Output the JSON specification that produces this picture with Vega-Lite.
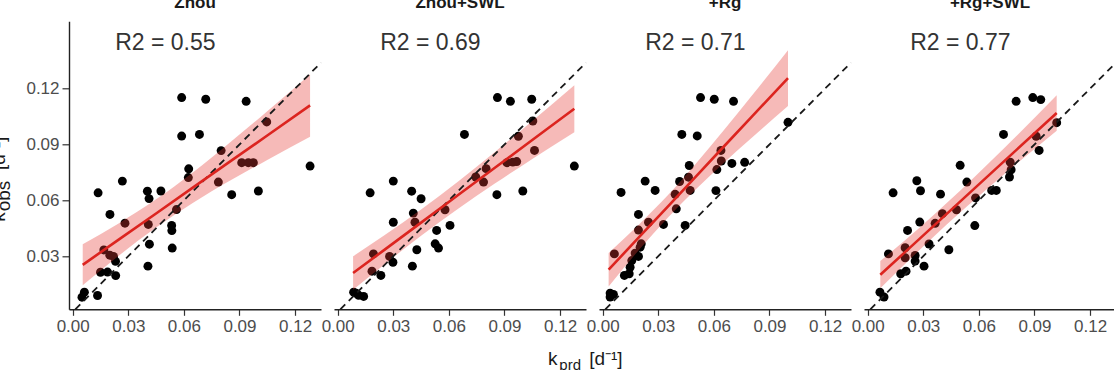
{
  "$schema": "https://vega.github.io/schema/vega-lite/v6.json",
  "padding": {"left": -11, "top": -6.7, "right": 0, "bottom": 0},
  "title": {
    "text": "k\u00a0\u00a0\u00a0\u00a0\u00a0\u00a0[d\u207b\u00b9]",
    "subtitle": "\u2060\u00a0\u00a0\u2009prd",
    "orient": "bottom",
    "anchor": "start",
    "frame": "group",
    "align": "left",
    "dx": 479,
    "offset": 16,
    "fontSize": 19,
    "fontWeight": "normal",
    "color": "#1a1a1a",
    "font": "Liberation Sans",
    "subtitleFont": "Liberation Sans",
    "subtitleFontSize": 15,
    "subtitleColor": "#1a1a1a",
    "subtitlePadding": -11
  },
  "data": {
    "values": [
      {"model": "Zhou", "kind": "pt", "prd": 0.0588, "obs": 0.1152},
      {"model": "Zhou", "kind": "pt", "prd": 0.0718, "obs": 0.1143},
      {"model": "Zhou", "kind": "pt", "prd": 0.0936, "obs": 0.1132},
      {"model": "Zhou", "kind": "pt", "prd": 0.0588, "obs": 0.0945},
      {"model": "Zhou", "kind": "pt", "prd": 0.0684, "obs": 0.0954},
      {"model": "Zhou", "kind": "pt", "prd": 0.1047, "obs": 0.1021},
      {"model": "Zhou", "kind": "pt", "prd": 0.0801, "obs": 0.0867},
      {"model": "Zhou", "kind": "pt", "prd": 0.0912, "obs": 0.0802},
      {"model": "Zhou", "kind": "pt", "prd": 0.0948, "obs": 0.0802},
      {"model": "Zhou", "kind": "pt", "prd": 0.0975, "obs": 0.0802},
      {"model": "Zhou", "kind": "pt", "prd": 0.1281, "obs": 0.0784},
      {"model": "Zhou", "kind": "pt", "prd": 0.0626, "obs": 0.0769},
      {"model": "Zhou", "kind": "pt", "prd": 0.0624, "obs": 0.0722},
      {"model": "Zhou", "kind": "pt", "prd": 0.0786, "obs": 0.0698},
      {"model": "Zhou", "kind": "pt", "prd": 0.0858, "obs": 0.0630},
      {"model": "Zhou", "kind": "pt", "prd": 0.1002, "obs": 0.0650},
      {"model": "Zhou", "kind": "pt", "prd": 0.0268, "obs": 0.0703},
      {"model": "Zhou", "kind": "pt", "prd": 0.0137, "obs": 0.0640},
      {"model": "Zhou", "kind": "pt", "prd": 0.0403, "obs": 0.0649},
      {"model": "Zhou", "kind": "pt", "prd": 0.0412, "obs": 0.0609},
      {"model": "Zhou", "kind": "pt", "prd": 0.0476, "obs": 0.0650},
      {"model": "Zhou", "kind": "pt", "prd": 0.0201, "obs": 0.0524},
      {"model": "Zhou", "kind": "pt", "prd": 0.0560, "obs": 0.0550},
      {"model": "Zhou", "kind": "pt", "prd": 0.0282, "obs": 0.0477},
      {"model": "Zhou", "kind": "pt", "prd": 0.0408, "obs": 0.0470},
      {"model": "Zhou", "kind": "pt", "prd": 0.0534, "obs": 0.0465},
      {"model": "Zhou", "kind": "pt", "prd": 0.0535, "obs": 0.0437},
      {"model": "Zhou", "kind": "pt", "prd": 0.0414, "obs": 0.0364},
      {"model": "Zhou", "kind": "pt", "prd": 0.0537, "obs": 0.0343},
      {"model": "Zhou", "kind": "pt", "prd": 0.0406, "obs": 0.0246},
      {"model": "Zhou", "kind": "pt", "prd": 0.0168, "obs": 0.0333},
      {"model": "Zhou", "kind": "pt", "prd": 0.0200, "obs": 0.0305},
      {"model": "Zhou", "kind": "pt", "prd": 0.0220, "obs": 0.0298},
      {"model": "Zhou", "kind": "pt", "prd": 0.0231, "obs": 0.0272},
      {"model": "Zhou", "kind": "pt", "prd": 0.0150, "obs": 0.0213},
      {"model": "Zhou", "kind": "pt", "prd": 0.0188, "obs": 0.0214},
      {"model": "Zhou", "kind": "pt", "prd": 0.0232, "obs": 0.0195},
      {"model": "Zhou", "kind": "pt", "prd": 0.0134, "obs": 0.0088},
      {"model": "Zhou", "kind": "pt", "prd": 0.0063, "obs": 0.0106},
      {"model": "Zhou", "kind": "pt", "prd": 0.0050, "obs": 0.0079},

      {"model": "Zhou+SWL", "kind": "pt", "prd": 0.0862, "obs": 0.1152},
      {"model": "Zhou+SWL", "kind": "pt", "prd": 0.0932, "obs": 0.1132},
      {"model": "Zhou+SWL", "kind": "pt", "prd": 0.1047, "obs": 0.1143},
      {"model": "Zhou+SWL", "kind": "pt", "prd": 0.1053, "obs": 0.1026},
      {"model": "Zhou+SWL", "kind": "pt", "prd": 0.0975, "obs": 0.0944},
      {"model": "Zhou+SWL", "kind": "pt", "prd": 0.0684, "obs": 0.0954},
      {"model": "Zhou+SWL", "kind": "pt", "prd": 0.1062, "obs": 0.0868},
      {"model": "Zhou+SWL", "kind": "pt", "prd": 0.0913, "obs": 0.0802},
      {"model": "Zhou+SWL", "kind": "pt", "prd": 0.0945, "obs": 0.0805},
      {"model": "Zhou+SWL", "kind": "pt", "prd": 0.0966, "obs": 0.0808},
      {"model": "Zhou+SWL", "kind": "pt", "prd": 0.1277, "obs": 0.0784},
      {"model": "Zhou+SWL", "kind": "pt", "prd": 0.0801, "obs": 0.0770},
      {"model": "Zhou+SWL", "kind": "pt", "prd": 0.0787, "obs": 0.0698},
      {"model": "Zhou+SWL", "kind": "pt", "prd": 0.0745, "obs": 0.0725},
      {"model": "Zhou+SWL", "kind": "pt", "prd": 0.0859, "obs": 0.0630},
      {"model": "Zhou+SWL", "kind": "pt", "prd": 0.0999, "obs": 0.0650},
      {"model": "Zhou+SWL", "kind": "pt", "prd": 0.0300, "obs": 0.0703},
      {"model": "Zhou+SWL", "kind": "pt", "prd": 0.0175, "obs": 0.0640},
      {"model": "Zhou+SWL", "kind": "pt", "prd": 0.0399, "obs": 0.0649},
      {"model": "Zhou+SWL", "kind": "pt", "prd": 0.0450, "obs": 0.0608},
      {"model": "Zhou+SWL", "kind": "pt", "prd": 0.0408, "obs": 0.0531},
      {"model": "Zhou+SWL", "kind": "pt", "prd": 0.0417, "obs": 0.0482},
      {"model": "Zhou+SWL", "kind": "pt", "prd": 0.0300, "obs": 0.0482},
      {"model": "Zhou+SWL", "kind": "pt", "prd": 0.0579, "obs": 0.0549},
      {"model": "Zhou+SWL", "kind": "pt", "prd": 0.0534, "obs": 0.0438},
      {"model": "Zhou+SWL", "kind": "pt", "prd": 0.0606, "obs": 0.0465},
      {"model": "Zhou+SWL", "kind": "pt", "prd": 0.0526, "obs": 0.0366},
      {"model": "Zhou+SWL", "kind": "pt", "prd": 0.0544, "obs": 0.0343},
      {"model": "Zhou+SWL", "kind": "pt", "prd": 0.0427, "obs": 0.0334},
      {"model": "Zhou+SWL", "kind": "pt", "prd": 0.0403, "obs": 0.0246},
      {"model": "Zhou+SWL", "kind": "pt", "prd": 0.0193, "obs": 0.0312},
      {"model": "Zhou+SWL", "kind": "pt", "prd": 0.0280, "obs": 0.0298},
      {"model": "Zhou+SWL", "kind": "pt", "prd": 0.0298, "obs": 0.0267},
      {"model": "Zhou+SWL", "kind": "pt", "prd": 0.0185, "obs": 0.0219},
      {"model": "Zhou+SWL", "kind": "pt", "prd": 0.0233, "obs": 0.0196},
      {"model": "Zhou+SWL", "kind": "pt", "prd": 0.0086, "obs": 0.0106},
      {"model": "Zhou+SWL", "kind": "pt", "prd": 0.0113, "obs": 0.0089},
      {"model": "Zhou+SWL", "kind": "pt", "prd": 0.0140, "obs": 0.0083},
      {"model": "Zhou+SWL", "kind": "pt", "prd": 0.0100, "obs": 0.0100},

      {"model": "+Rg", "kind": "pt", "prd": 0.0528, "obs": 0.1152},
      {"model": "+Rg", "kind": "pt", "prd": 0.0602, "obs": 0.1143},
      {"model": "+Rg", "kind": "pt", "prd": 0.0706, "obs": 0.1132},
      {"model": "+Rg", "kind": "pt", "prd": 0.1000, "obs": 0.1019},
      {"model": "+Rg", "kind": "pt", "prd": 0.0427, "obs": 0.0954},
      {"model": "+Rg", "kind": "pt", "prd": 0.0510, "obs": 0.0946},
      {"model": "+Rg", "kind": "pt", "prd": 0.0638, "obs": 0.0868},
      {"model": "+Rg", "kind": "pt", "prd": 0.0640, "obs": 0.0811},
      {"model": "+Rg", "kind": "pt", "prd": 0.0697, "obs": 0.0798},
      {"model": "+Rg", "kind": "pt", "prd": 0.0766, "obs": 0.0804},
      {"model": "+Rg", "kind": "pt", "prd": 0.0616, "obs": 0.0765},
      {"model": "+Rg", "kind": "pt", "prd": 0.0467, "obs": 0.0787},
      {"model": "+Rg", "kind": "pt", "prd": 0.0463, "obs": 0.0724},
      {"model": "+Rg", "kind": "pt", "prd": 0.0415, "obs": 0.0701},
      {"model": "+Rg", "kind": "pt", "prd": 0.0472, "obs": 0.0653},
      {"model": "+Rg", "kind": "pt", "prd": 0.0611, "obs": 0.0652},
      {"model": "+Rg", "kind": "pt", "prd": 0.0229, "obs": 0.0703},
      {"model": "+Rg", "kind": "pt", "prd": 0.0283, "obs": 0.0653},
      {"model": "+Rg", "kind": "pt", "prd": 0.0099, "obs": 0.0642},
      {"model": "+Rg", "kind": "pt", "prd": 0.0391, "obs": 0.0632},
      {"model": "+Rg", "kind": "pt", "prd": 0.0397, "obs": 0.0554},
      {"model": "+Rg", "kind": "pt", "prd": 0.0193, "obs": 0.0524},
      {"model": "+Rg", "kind": "pt", "prd": 0.0247, "obs": 0.0482},
      {"model": "+Rg", "kind": "pt", "prd": 0.0328, "obs": 0.0470},
      {"model": "+Rg", "kind": "pt", "prd": 0.0445, "obs": 0.0465},
      {"model": "+Rg", "kind": "pt", "prd": 0.0193, "obs": 0.0440},
      {"model": "+Rg", "kind": "pt", "prd": 0.0208, "obs": 0.0366},
      {"model": "+Rg", "kind": "pt", "prd": 0.0202, "obs": 0.0348},
      {"model": "+Rg", "kind": "pt", "prd": 0.0175, "obs": 0.0316},
      {"model": "+Rg", "kind": "pt", "prd": 0.0193, "obs": 0.0298},
      {"model": "+Rg", "kind": "pt", "prd": 0.0157, "obs": 0.0276},
      {"model": "+Rg", "kind": "pt", "prd": 0.0148, "obs": 0.0240},
      {"model": "+Rg", "kind": "pt", "prd": 0.0117, "obs": 0.0196},
      {"model": "+Rg", "kind": "pt", "prd": 0.0143, "obs": 0.0205},
      {"model": "+Rg", "kind": "pt", "prd": 0.0063, "obs": 0.0312},
      {"model": "+Rg", "kind": "pt", "prd": 0.0040, "obs": 0.0101},
      {"model": "+Rg", "kind": "pt", "prd": 0.0058, "obs": 0.0094},
      {"model": "+Rg", "kind": "pt", "prd": 0.0040, "obs": 0.0080},

      {"model": "+Rg+SWL", "kind": "pt", "prd": 0.0801, "obs": 0.1132},
      {"model": "+Rg+SWL", "kind": "pt", "prd": 0.0891, "obs": 0.1152},
      {"model": "+Rg+SWL", "kind": "pt", "prd": 0.0934, "obs": 0.1141},
      {"model": "+Rg+SWL", "kind": "pt", "prd": 0.1020, "obs": 0.1017},
      {"model": "+Rg+SWL", "kind": "pt", "prd": 0.0733, "obs": 0.0954},
      {"model": "+Rg+SWL", "kind": "pt", "prd": 0.0909, "obs": 0.0944},
      {"model": "+Rg+SWL", "kind": "pt", "prd": 0.0925, "obs": 0.0868},
      {"model": "+Rg+SWL", "kind": "pt", "prd": 0.0769, "obs": 0.0805},
      {"model": "+Rg+SWL", "kind": "pt", "prd": 0.0774, "obs": 0.0764},
      {"model": "+Rg+SWL", "kind": "pt", "prd": 0.0765, "obs": 0.0725},
      {"model": "+Rg+SWL", "kind": "pt", "prd": 0.0499, "obs": 0.0788},
      {"model": "+Rg+SWL", "kind": "pt", "prd": 0.0535, "obs": 0.0698},
      {"model": "+Rg+SWL", "kind": "pt", "prd": 0.0265, "obs": 0.0705},
      {"model": "+Rg+SWL", "kind": "pt", "prd": 0.0285, "obs": 0.0651},
      {"model": "+Rg+SWL", "kind": "pt", "prd": 0.0137, "obs": 0.0640},
      {"model": "+Rg+SWL", "kind": "pt", "prd": 0.0393, "obs": 0.0633},
      {"model": "+Rg+SWL", "kind": "pt", "prd": 0.0582, "obs": 0.0613},
      {"model": "+Rg+SWL", "kind": "pt", "prd": 0.0669, "obs": 0.0653},
      {"model": "+Rg+SWL", "kind": "pt", "prd": 0.0694, "obs": 0.0653},
      {"model": "+Rg+SWL", "kind": "pt", "prd": 0.0479, "obs": 0.0549},
      {"model": "+Rg+SWL", "kind": "pt", "prd": 0.0403, "obs": 0.0528},
      {"model": "+Rg+SWL", "kind": "pt", "prd": 0.0281, "obs": 0.0483},
      {"model": "+Rg+SWL", "kind": "pt", "prd": 0.0364, "obs": 0.0476},
      {"model": "+Rg+SWL", "kind": "pt", "prd": 0.0578, "obs": 0.0464},
      {"model": "+Rg+SWL", "kind": "pt", "prd": 0.0215, "obs": 0.0438},
      {"model": "+Rg+SWL", "kind": "pt", "prd": 0.0331, "obs": 0.0365},
      {"model": "+Rg+SWL", "kind": "pt", "prd": 0.0438, "obs": 0.0334},
      {"model": "+Rg+SWL", "kind": "pt", "prd": 0.0112, "obs": 0.0312},
      {"model": "+Rg+SWL", "kind": "pt", "prd": 0.0202, "obs": 0.0345},
      {"model": "+Rg+SWL", "kind": "pt", "prd": 0.0202, "obs": 0.0291},
      {"model": "+Rg+SWL", "kind": "pt", "prd": 0.0256, "obs": 0.0303},
      {"model": "+Rg+SWL", "kind": "pt", "prd": 0.0256, "obs": 0.0273},
      {"model": "+Rg+SWL", "kind": "pt", "prd": 0.0304, "obs": 0.0246},
      {"model": "+Rg+SWL", "kind": "pt", "prd": 0.0178, "obs": 0.0205},
      {"model": "+Rg+SWL", "kind": "pt", "prd": 0.0207, "obs": 0.0219},
      {"model": "+Rg+SWL", "kind": "pt", "prd": 0.0066, "obs": 0.0106},
      {"model": "+Rg+SWL", "kind": "pt", "prd": 0.0088, "obs": 0.0080},

      {"model": "Zhou", "kind": "fit", "prd": 0.0054, "obs": 0.0253, "lo": 0.0143, "hi": 0.0363},
      {"model": "Zhou", "kind": "fit", "prd": 0.025, "obs": 0.0390, "lo": 0.0303, "hi": 0.0477},
      {"model": "Zhou", "kind": "fit", "prd": 0.045, "obs": 0.0529, "lo": 0.0453, "hi": 0.0605},
      {"model": "Zhou", "kind": "fit", "prd": 0.065, "obs": 0.0669, "lo": 0.0587, "hi": 0.0751},
      {"model": "Zhou", "kind": "fit", "prd": 0.085, "obs": 0.0809, "lo": 0.0706, "hi": 0.0912},
      {"model": "Zhou", "kind": "fit", "prd": 0.105, "obs": 0.0948, "lo": 0.0817, "hi": 0.1079},
      {"model": "Zhou", "kind": "fit", "prd": 0.1281, "obs": 0.1110, "lo": 0.0942, "hi": 0.1278},

      {"model": "Zhou+SWL", "kind": "fit", "prd": 0.0083, "obs": 0.0209, "lo": 0.0119, "hi": 0.0299},
      {"model": "Zhou+SWL", "kind": "fit", "prd": 0.025, "obs": 0.0332, "lo": 0.0254, "hi": 0.0410},
      {"model": "Zhou+SWL", "kind": "fit", "prd": 0.045, "obs": 0.0480, "lo": 0.0409, "hi": 0.0551},
      {"model": "Zhou+SWL", "kind": "fit", "prd": 0.065, "obs": 0.0628, "lo": 0.0555, "hi": 0.0701},
      {"model": "Zhou+SWL", "kind": "fit", "prd": 0.085, "obs": 0.0776, "lo": 0.0691, "hi": 0.0861},
      {"model": "Zhou+SWL", "kind": "fit", "prd": 0.105, "obs": 0.0924, "lo": 0.0822, "hi": 0.1026},
      {"model": "Zhou+SWL", "kind": "fit", "prd": 0.1277, "obs": 0.1092, "lo": 0.0966, "hi": 0.1218},

      {"model": "+Rg", "kind": "fit", "prd": 0.0032, "obs": 0.0227, "lo": 0.0137, "hi": 0.0317},
      {"model": "+Rg", "kind": "fit", "prd": 0.02, "obs": 0.0406, "lo": 0.0338, "hi": 0.0474},
      {"model": "+Rg", "kind": "fit", "prd": 0.035, "obs": 0.0565, "lo": 0.0505, "hi": 0.0625},
      {"model": "+Rg", "kind": "fit", "prd": 0.05, "obs": 0.0725, "lo": 0.0657, "hi": 0.0793},
      {"model": "+Rg", "kind": "fit", "prd": 0.065, "obs": 0.0885, "lo": 0.0798, "hi": 0.0972},
      {"model": "+Rg", "kind": "fit", "prd": 0.08, "obs": 0.1044, "lo": 0.0932, "hi": 0.1156},
      {"model": "+Rg", "kind": "fit", "prd": 0.1, "obs": 0.1257, "lo": 0.1107, "hi": 0.1407},

      {"model": "+Rg+SWL", "kind": "fit", "prd": 0.0068, "obs": 0.0200, "lo": 0.0127, "hi": 0.0273},
      {"model": "+Rg+SWL", "kind": "fit", "prd": 0.02, "obs": 0.0320, "lo": 0.0256, "hi": 0.0384},
      {"model": "+Rg+SWL", "kind": "fit", "prd": 0.035, "obs": 0.0457, "lo": 0.0398, "hi": 0.0516},
      {"model": "+Rg+SWL", "kind": "fit", "prd": 0.05, "obs": 0.0594, "lo": 0.0535, "hi": 0.0653},
      {"model": "+Rg+SWL", "kind": "fit", "prd": 0.065, "obs": 0.0731, "lo": 0.0666, "hi": 0.0796},
      {"model": "+Rg+SWL", "kind": "fit", "prd": 0.08, "obs": 0.0868, "lo": 0.0793, "hi": 0.0943},
      {"model": "+Rg+SWL", "kind": "fit", "prd": 0.102, "obs": 0.1069, "lo": 0.0974, "hi": 0.1164},

      {"model": "Zhou", "kind": "one", "prd": 0.0014, "obs": 0.0014},
      {"model": "Zhou", "kind": "one", "prd": 0.134, "obs": 0.134},
      {"model": "Zhou+SWL", "kind": "one", "prd": 0.0014, "obs": 0.0014},
      {"model": "Zhou+SWL", "kind": "one", "prd": 0.134, "obs": 0.134},
      {"model": "+Rg", "kind": "one", "prd": 0.0014, "obs": 0.0014},
      {"model": "+Rg", "kind": "one", "prd": 0.134, "obs": 0.134},
      {"model": "+Rg+SWL", "kind": "one", "prd": 0.0014, "obs": 0.0014},
      {"model": "+Rg+SWL", "kind": "one", "prd": 0.134, "obs": 0.134},

      {"model": "Zhou", "kind": "r2", "prd": 0.05, "obs": 0.1443, "label": "R2 = 0.55"},
      {"model": "Zhou+SWL", "kind": "r2", "prd": 0.05, "obs": 0.1443, "label": "R2 = 0.69"},
      {"model": "+Rg", "kind": "r2", "prd": 0.05, "obs": 0.1443, "label": "R2 = 0.71"},
      {"model": "+Rg+SWL", "kind": "r2", "prd": 0.05, "obs": 0.1443, "label": "R2 = 0.77"}
    ]
  },
  "facet": {
    "column": {
      "field": "model",
      "type": "nominal",
      "sort": ["Zhou", "Zhou+SWL", "+Rg", "+Rg+SWL"],
      "title": null,
      "header": {
        "labelFontSize": 17,
        "labelFontWeight": "bold",
        "labelColor": "#1a1a1a",
        "labelFont": "Liberation Sans",
        "labelPadding": 9.7
      }
    }
  },
  "spacing": 13,
  "bounds": "flush",
  "spec": {
    "width": 252,
    "height": 288,
    "encoding": {
      "x": {
        "field": "prd",
        "type": "quantitative",
        "scale": {"domain": [-0.002, 0.134], "nice": false, "zero": false},
        "axis": {"values": [0, 0.03, 0.06, 0.09, 0.12], "format": ".2f", "title": null, "labelPadding": 3, "tickSize": 6}
      },
      "y": {
        "field": "obs",
        "type": "quantitative",
        "scale": {"domain": [0.0014, 0.1562], "nice": false, "zero": false},
        "axis": {
          "values": [0.03, 0.06, 0.09, 0.12],
          "format": ".2f",
          "title": ["k\u00a0\u00a0\u00a0\u00a0\u00a0\u00a0\u00a0\u00a0[d\u207b\u00b9]", "\u2060\u00a0\u00a0obs"],
          "titleFontSize": 19,
          "titleFontWeight": "normal",
          "titleColor": "#1a1a1a",
          "titleLineHeight": 5,
          "titleAlign": "left",
          "titleBaseline": "alphabetic",
          "titleAngle": 270,
          "titleX": -64.5,
          "titleY": 200,
          "tickSize": 7,
          "labelPadding": 3
        }
      }
    },
    "layer": [
      {
        "transform": [{"filter": "datum.kind === 'pt'"}],
        "mark": {"type": "circle", "size": 80, "color": "#000000", "opacity": 1}
      },
      {
        "transform": [{"filter": "datum.kind === 'fit'"}],
        "mark": {"type": "area", "color": "#e53935", "opacity": 0.35, "interpolate": "monotone"},
        "encoding": {
          "y": {
            "field": "lo",
            "type": "quantitative",
            "scale": {"domain": [0.0014, 0.1562], "nice": false, "zero": false},
            "axis": {
              "values": [0.03, 0.06, 0.09, 0.12],
              "format": ".2f",
              "title": ["k\u00a0\u00a0\u00a0\u00a0\u00a0\u00a0\u00a0\u00a0[d\u207b\u00b9]", "\u2060\u00a0\u00a0obs"],
              "titleFontSize": 19,
              "titleFontWeight": "normal",
              "titleColor": "#1a1a1a",
              "titleLineHeight": 5,
              "titleAlign": "left",
              "titleBaseline": "alphabetic",
              "titleAngle": 270,
              "titleX": -64.5,
              "titleY": 200,
              "tickSize": 7,
              "labelPadding": 3
            }
          },
          "y2": {"field": "hi"}
        }
      },
      {
        "transform": [{"filter": "datum.kind === 'one'"}],
        "mark": {"type": "line", "color": "#1a1a1a", "strokeWidth": 1.8, "strokeDash": [7, 5]}
      },
      {
        "transform": [{"filter": "datum.kind === 'fit'"}],
        "mark": {"type": "line", "color": "#dc241f", "strokeWidth": 2.6}
      },
      {
        "transform": [{"filter": "datum.kind === 'r2'"}],
        "mark": {"type": "text", "fontSize": 23, "color": "#333333", "align": "center", "baseline": "middle", "font": "Liberation Sans"},
        "encoding": {"text": {"field": "label"}}
      }
    ]
  },
  "config": {
    "view": {"stroke": null},
    "font": "Liberation Sans",
    "axis": {
      "grid": false,
      "domainColor": "#222222",
      "domainWidth": 1.4,
      "tickColor": "#333333",
      "tickWidth": 1.2,
      "labelColor": "#4d4d4d",
      "labelFontSize": 17,
      "labelFont": "Liberation Sans",
      "titleFont": "Liberation Sans"
    }
  }
}
